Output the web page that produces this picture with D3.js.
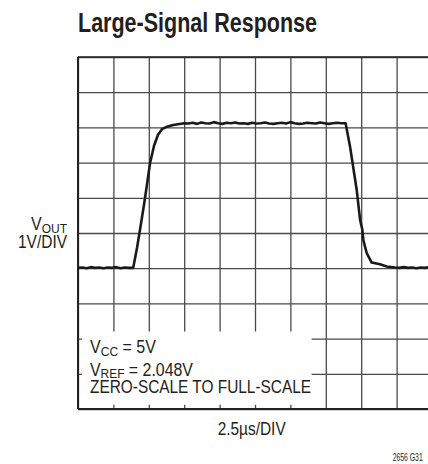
<!DOCTYPE html>
<html>
<head>
<meta charset="utf-8">
<script src="https://cdn.jsdelivr.net/npm/d3@7"></script>
<style>
  html, body { margin: 0; padding: 0; background: #fff; }
  svg { display: block; }
  text { fill: #231f20; font-family: "Liberation Sans Narrow", "Liberation Sans", Arial, sans-serif; }
</style>
</head>
<body>
<svg id="chart" width="428" height="464"></svg>
<script>
// ---- data (time in µs, output in V) ----
const xTicks = [0, 2.5, 5, 7.5, 10, 12.5, 15, 17.5, 20, 22.5, 25];
const yTicks = [-4, -3, -2, -1, 0, 1, 2, 3, 4, 5, 6];

const baseLeftT = [0, 0.3, 0.6, 0.9, 1.2, 1.5, 1.8, 2.1, 2.4, 2.7, 3.0, 3.3, 3.6, 3.9];
const baseLeftV = [0.01, 0.02, 0.00, 0.03, 0.01, 0.02, 0.00, 0.02, 0.01, 0.03, 0.00, 0.02, 0.01, 0.01];

const riseT = [4.17, 4.38, 4.66, 4.87, 5.09, 5.37, 5.65, 5.93, 6.29, 6.64, 7.06, 7.49];
const riseV = [0.58, 1.09, 1.80, 2.37, 2.99, 3.48, 3.79, 3.95, 4.02, 4.06, 4.09, 4.12];

const plateauT = [7.8, 8.1, 8.4, 8.7, 9.0, 9.3, 9.6, 9.9, 10.2, 10.5, 10.8, 11.1, 11.4, 11.7, 12.0, 12.3, 12.6, 12.9, 13.2,
                  13.5, 13.8, 14.1, 14.4, 14.7, 15.0, 15.3, 15.6, 15.9, 16.2, 16.5, 16.8, 17.1, 17.4, 17.7, 18.0, 18.3, 18.6];
const plateauV = [4.11, 4.13, 4.10, 4.14, 4.12, 4.11, 4.15, 4.12, 4.10, 4.13, 4.12, 4.14, 4.11, 4.12, 4.10, 4.13, 4.11, 4.12, 4.14,
                  4.11, 4.10, 4.12, 4.13, 4.11, 4.15, 4.12, 4.10, 4.11, 4.13, 4.12, 4.11, 4.14, 4.12, 4.10, 4.12, 4.13, 4.12];

const fallT = [18.9, 19.21, 19.68, 19.92, 20.08, 20.15, 20.39, 20.74, 21.33, 21.8, 22.39];
const fallV = [4.12, 3.46, 2.23, 1.38, 1.09, 0.80, 0.43, 0.16, 0.11, 0.05, 0.02];

const baseRightT = [22.7, 23.0, 23.3, 23.6, 23.9, 24.2, 24.5, 24.8, 25.0];
const baseRightV = [0.01, 0.03, 0.01, 0.02, 0.00, 0.02, 0.01, 0.03, 0.01];

const titleText = "Large-Signal Response";
const xLabel = "2.5µs/DIV";
const footer = "2656 G31";

// ---- drawing ----
const svg = d3.select("#chart");
const x = d3.scaleLinear().domain([0, 25]).range([78, 432]);
const y = d3.scaleLinear().domain([-4, 6]).range([409, 57]);

const tAll = [].concat(baseLeftT, riseT, plateauT, fallT, baseRightT);
const vAll = [].concat(baseLeftV, riseV, plateauV, fallV, baseRightV);
const trace = tAll.map((t, i) => ({ t: t, v: vAll[i] }));

// grid via axes
const gridX = svg.append("g").attr("transform", `translate(0,${y(-4)})`)
  .call(d3.axisBottom(x).tickValues(xTicks).tickSize(-(y(-4) - y(6))).tickFormat(""));
const gridY = svg.append("g").attr("transform", `translate(${x(0)},0)`)
  .call(d3.axisLeft(y).tickValues(yTicks).tickSize(-(x(25) - x(0))).tickFormat(""));
[gridX, gridY].forEach(g => {
  g.select(".domain").remove();
  g.selectAll(".tick line").attr("stroke", "#4a4a4a").attr("stroke-width", 1.3);
});

// annotation box (covers grid, leaves stubs)
svg.append("rect")
  .attr("x", x(0) + 4).attr("y", y(-1.8))
  .attr("width", x(16.5) - x(0) - 4).attr("height", y(-3.88) - y(-1.8))
  .attr("fill", "#fff");

// borders
svg.append("line").attr("x1", x(0)).attr("x2", x(25)).attr("y1", y(6)).attr("y2", y(6))
  .attr("stroke", "#222").attr("stroke-width", 1.6);
svg.append("line").attr("x1", x(0)).attr("x2", x(25)).attr("y1", y(-4)).attr("y2", y(-4))
  .attr("stroke", "#222").attr("stroke-width", 2);
svg.append("line").attr("x1", x(0)).attr("x2", x(0)).attr("y1", y(6)).attr("y2", y(-4))
  .attr("stroke", "#222").attr("stroke-width", 2);

// trace
svg.append("path")
  .datum(trace)
  .attr("fill", "none")
  .attr("stroke", "#1a1a1a")
  .attr("stroke-width", 2.6)
  .attr("stroke-linejoin", "round")
  .attr("d", d3.line().x(d => x(d.t)).y(d => y(d.v)));

// title
svg.append("text").attr("x", 78).attr("y", 32)
  .attr("font-size", 27).attr("font-weight", "bold")
  .attr("textLength", 239).attr("lengthAdjust", "spacingAndGlyphs")
  .text(titleText);

// y label
const yl = svg.append("text").attr("x", 31).attr("y", 230)
  .attr("font-size", 18).attr("textLength", 36).attr("lengthAdjust", "spacingAndGlyphs");
yl.append("tspan").text("V");
yl.append("tspan").attr("font-size", 13.5).attr("dy", 2.5).text("OUT");
svg.append("text").attr("x", 18).attr("y", 248.3)
  .attr("font-size", 18).attr("textLength", 49).attr("lengthAdjust", "spacingAndGlyphs")
  .text("1V/DIV");

// annotation
const a1 = svg.append("text").attr("x", 90).attr("y", 353.3)
  .attr("font-size", 18).attr("textLength", 66).attr("lengthAdjust", "spacingAndGlyphs");
a1.append("tspan").text("V");
a1.append("tspan").attr("font-size", 13.5).attr("dy", 2.5).text("CC");
a1.append("tspan").attr("dy", -2.5).text(" = 5V");

const a2 = svg.append("text").attr("x", 90).attr("y", 375.5)
  .attr("font-size", 18).attr("textLength", 103).attr("lengthAdjust", "spacingAndGlyphs");
a2.append("tspan").text("V");
a2.append("tspan").attr("font-size", 13.5).attr("dy", 2.5).text("REF");
a2.append("tspan").attr("dy", -2.5).text(" = 2.048V");

svg.append("text").attr("x", 90).attr("y", 393.3)
  .attr("font-size", 18).attr("textLength", 221).attr("lengthAdjust", "spacingAndGlyphs")
  .text("ZERO-SCALE TO FULL-SCALE");

// x label
svg.append("text").attr("x", 217.7).attr("y", 435)
  .attr("font-size", 18).attr("textLength", 68).attr("lengthAdjust", "spacingAndGlyphs")
  .text(xLabel);

// footer
svg.append("text").attr("x", 392.7).attr("y", 461)
  .attr("font-size", 11).attr("textLength", 30).attr("lengthAdjust", "spacingAndGlyphs")
  .text(footer);
</script>
</body>
</html>
